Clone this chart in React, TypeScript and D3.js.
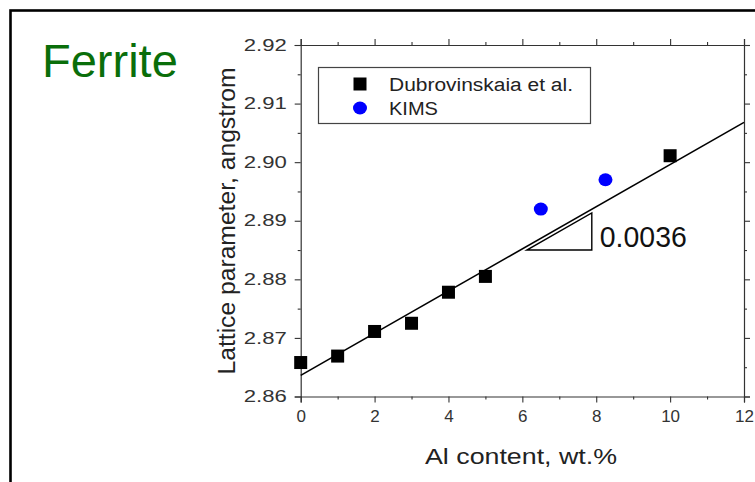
import React, { useEffect, useRef } from "react";
import * as d3 from "d3";

// Lattice parameter of ferrite vs Al content
const dubrovinskaiaAl = [0, 1, 2, 3, 4, 5, 10];
const dubrovinskaiaA = [2.8658, 2.8669, 2.8711, 2.8725, 2.8778, 2.8805, 2.9011];
const kimsAl = [6.5, 8.25];
const kimsA = [2.892, 2.897];

// Linear fit a = a0 + k * wt.%Al
const fitIntercept = 2.8636;
const fitSlope = 0.0036;
const fitRange = [0, 12];

// Slope triangle drawn under the fit line
const triangleX = [6.12, 7.88];
const triangleBase = 2.885;

const xMajorTicks = [0, 2, 4, 6, 8, 10, 12];
const xMinorTicks = [1, 3, 5, 7, 9, 11];
const yMajorTicks = [2.86, 2.87, 2.88, 2.89, 2.9, 2.91, 2.92];
const yMinorTicks = [2.865, 2.875, 2.885, 2.895, 2.905, 2.915];

const legendLabels = ["Dubrovinskaia et al.", "KIMS"];

const FONT = "'Liberation Sans', Arial, sans-serif";

export default function App() {
  const ref = useRef<SVGSVGElement | null>(null);

  useEffect(() => {
    const svg = d3.select(ref.current);
    svg.selectAll("*").remove();

    const x = d3.scaleLinear().domain([0, 12]).range([300.7, 744]);
    const y = d3.scaleLinear().domain([2.86, 2.92]).range([396.5, 45]);

    // outer slide frame
    svg
      .append("rect")
      .attr("x", 10.5)
      .attr("y", 10.5)
      .attr("width", 800)
      .attr("height", 500)
      .attr("fill", "#fff")
      .attr("stroke", "#000")
      .attr("stroke-width", 2.6);

    svg
      .append("text")
      .attr("x", 42)
      .attr("y", 77)
      .attr("font-family", FONT)
      .attr("font-size", 47)
      .attr("fill", "#0a6e0a")
      .text("Ferrite");

    const axisColor = "#333";
    const styleAxis = (g: d3.Selection<SVGGElement, unknown, null, undefined>) => {
      g.selectAll("path").attr("stroke", axisColor).attr("stroke-width", 1.2);
      g.selectAll("line").attr("stroke", axisColor).attr("stroke-width", 1.1);
      g.selectAll("text")
        .attr("fill", "#333")
        .attr("font-family", FONT);
    };

    // bottom axis
    const gb = svg.append("g").attr("transform", `translate(0,${y(2.86)})`);
    gb.call(
      d3.axisBottom(x).tickValues(xMajorTicks).tickSize(6).tickPadding(7).tickFormat(d3.format("d"))
    );
    gb.selectAll("text").attr("font-size", 17);
    styleAxis(gb);
    const gbm = svg.append("g").attr("transform", `translate(0,${y(2.86)})`);
    gbm.call(d3.axisBottom(x).tickValues(xMinorTicks).tickSize(3).tickFormat(() => ""));
    gbm.select("path").remove();
    styleAxis(gbm);

    // top axis
    const gt = svg.append("g").attr("transform", `translate(0,${y(2.92)})`);
    gt.call(d3.axisTop(x).tickValues(xMajorTicks).tickSize(6).tickFormat(() => ""));
    styleAxis(gt);
    const gtm = svg.append("g").attr("transform", `translate(0,${y(2.92)})`);
    gtm.call(d3.axisTop(x).tickValues(xMinorTicks).tickSize(3).tickFormat(() => ""));
    gtm.select("path").remove();
    styleAxis(gtm);

    // left axis
    const gl = svg.append("g").attr("transform", `translate(${x(0)},0)`);
    gl.call(
      d3.axisLeft(y).tickValues(yMajorTicks).tickSize(6).tickPadding(8).tickFormat(d3.format(".2f"))
    );
    gl.selectAll("text")
      .attr("font-size", 16)
      .attr("textLength", 43)
      .attr("lengthAdjust", "spacingAndGlyphs");
    styleAxis(gl);
    const glm = svg.append("g").attr("transform", `translate(${x(0)},0)`);
    glm.call(d3.axisLeft(y).tickValues(yMinorTicks).tickSize(3).tickFormat(() => ""));
    glm.select("path").remove();
    styleAxis(glm);

    // right axis
    const gr = svg.append("g").attr("transform", `translate(${x(12)},0)`);
    gr.call(d3.axisRight(y).tickValues(yMajorTicks).tickSize(6).tickFormat(() => ""));
    styleAxis(gr);
    const grm = svg.append("g").attr("transform", `translate(${x(12)},0)`);
    grm.call(d3.axisRight(y).tickValues(yMinorTicks).tickSize(3).tickFormat(() => ""));
    grm.select("path").remove();
    styleAxis(grm);

    // axis titles
    svg
      .append("text")
      .attr("x", 521)
      .attr("y", 464)
      .attr("text-anchor", "middle")
      .attr("font-family", FONT)
      .attr("font-size", 22)
      .attr("fill", "#222")
      .attr("textLength", 192)
      .attr("lengthAdjust", "spacingAndGlyphs")
      .text("Al content, wt.%");

    svg
      .append("text")
      .attr("transform", `translate(235,221) rotate(-90)`)
      .attr("text-anchor", "middle")
      .attr("font-family", FONT)
      .attr("font-size", 23)
      .attr("fill", "#222")
      .attr("textLength", 307)
      .attr("lengthAdjust", "spacingAndGlyphs")
      .text("Lattice parameter, angstrom");

    // fit line
    const fit = d3
      .line<number>()
      .x((d) => x(d))
      .y((d) => y(fitIntercept + fitSlope * d));
    svg
      .append("path")
      .attr("d", fit(fitRange))
      .attr("fill", "none")
      .attr("stroke", "#000")
      .attr("stroke-width", 1.6);

    // slope triangle
    const tri: [number, number][] = [
      [triangleX[0], triangleBase],
      [triangleX[1], triangleBase],
      [triangleX[1], triangleBase + fitSlope * (triangleX[1] - triangleX[0])],
    ];
    svg
      .append("path")
      .attr("d", d3.line<[number, number]>().x((d) => x(d[0])).y((d) => y(d[1]))(tri) + "Z")
      .attr("fill", "none")
      .attr("stroke", "#000")
      .attr("stroke-width", 1.4);
    svg
      .append("text")
      .attr("x", x(triangleX[1]) + 8)
      .attr("y", 247)
      .attr("font-family", FONT)
      .attr("font-size", 29)
      .attr("fill", "#111")
      .attr("textLength", 87)
      .attr("lengthAdjust", "spacingAndGlyphs")
      .text(d3.format(".4f")(fitSlope));

    // data markers
    const sq = 13;
    svg
      .append("g")
      .selectAll("rect")
      .data(dubrovinskaiaAl.map((a, i) => [a, dubrovinskaiaA[i]]))
      .join("rect")
      .attr("x", (d) => x(d[0]) - sq / 2)
      .attr("y", (d) => y(d[1]) - sq / 2)
      .attr("width", sq)
      .attr("height", sq)
      .attr("fill", "#000");

    svg
      .append("g")
      .selectAll("ellipse")
      .data(kimsAl.map((a, i) => [a, kimsA[i]]))
      .join("ellipse")
      .attr("cx", (d) => x(d[0]))
      .attr("cy", (d) => y(d[1]))
      .attr("rx", 7)
      .attr("ry", 6.5)
      .attr("fill", "#0000ff");

    // legend
    const lg = svg.append("g");
    lg.append("rect")
      .attr("x", 318.5)
      .attr("y", 67.5)
      .attr("width", 272)
      .attr("height", 56)
      .attr("fill", "#fff")
      .attr("stroke", "#444")
      .attr("stroke-width", 1.2);
    lg.append("rect")
      .attr("x", 360 - sq / 2)
      .attr("y", 84 - sq / 2)
      .attr("width", sq)
      .attr("height", sq)
      .attr("fill", "#000");
    lg.append("ellipse")
      .attr("cx", 360)
      .attr("cy", 108)
      .attr("rx", 7)
      .attr("ry", 6.5)
      .attr("fill", "#0000ff");
    const legendWidths = [184, 49];
    legendLabels.forEach((t, i) => {
      lg.append("text")
        .attr("x", 389)
        .attr("y", 84 + i * 24 + 6.5)
        .attr("font-family", FONT)
        .attr("font-size", 18)
        .attr("fill", "#222")
        .attr("textLength", legendWidths[i])
        .attr("lengthAdjust", "spacingAndGlyphs")
        .text(t);
    });
  }, []);

  return (
    <svg
      ref={ref}
      width={755}
      height={482}
      style={{ position: "absolute", left: 0, top: 0, background: "#fff" }}
    />
  );
}
